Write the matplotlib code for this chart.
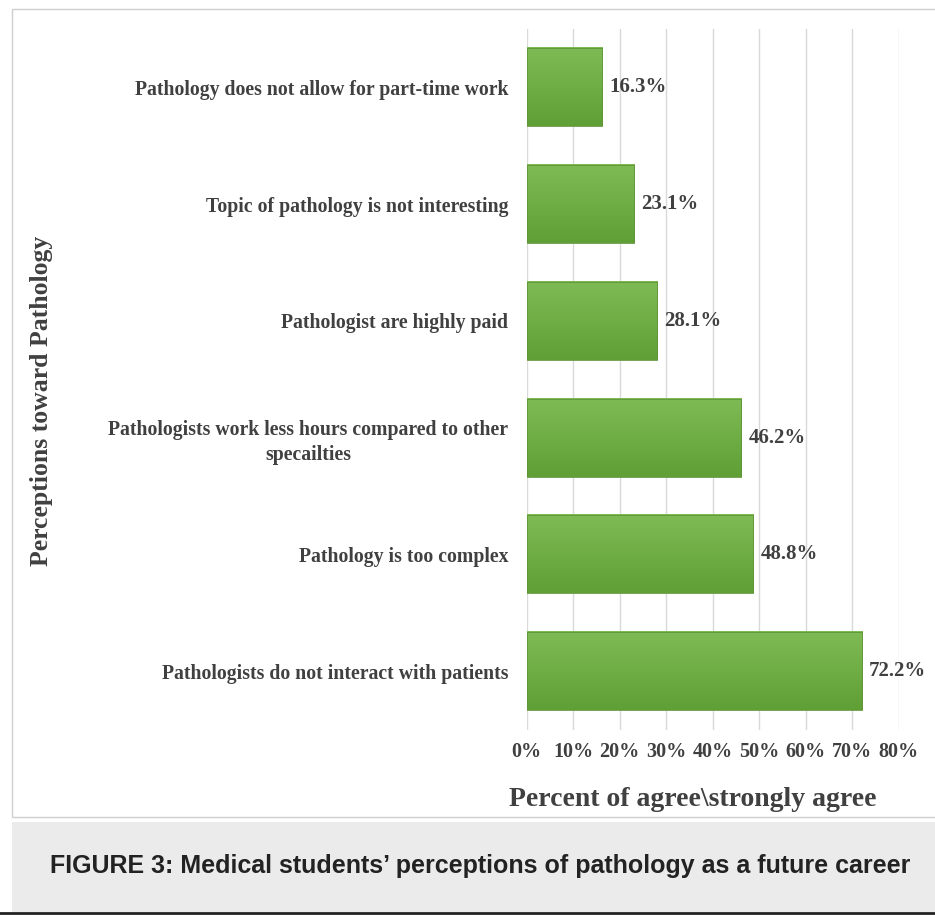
import numpy as np
import matplotlib
matplotlib.use("Agg")
import matplotlib.pyplot as plt
from matplotlib.patches import Rectangle
from matplotlib.ticker import FuncFormatter

categories = [
    "Pathologists do not interact with patients",
    "Pathology is too complex",
    "Pathologists work less hours compared to other\nspecailties",
    "Pathologist are highly paid",
    "Topic of pathology is not interesting",
    "Pathology does not allow for part-time work",
]
values = [72.2, 48.8, 46.2, 28.1, 23.1, 16.3]
xticks = [0, 10, 20, 30, 40, 50, 60, 70, 80]

serif = "Liberation Serif"
txt = "#404040"

fig = plt.figure(figsize=(9.35, 9.19), dpi=100)

# chart frame and caption box
fig.patches.append(Rectangle((12 / 935, 1 - 817 / 919), 1, (817 - 9) / 919,
                             transform=fig.transFigure, facecolor="white",
                             edgecolor="#cfcfcf", lw=1, zorder=-2))
fig.patches.append(Rectangle((12 / 935, 1 - 912 / 919), 1, (912 - 822) / 919,
                             transform=fig.transFigure, facecolor="#ebebeb",
                             edgecolor="none", zorder=-2))
fig.add_artist(plt.Line2D([0, 1], [1 - 913 / 919] * 2, transform=fig.transFigure,
                          color="#222222", lw=2))
fig.text(480 / 935, 1 - 866 / 919,
         "FIGURE 3: Medical students\u2019 perceptions of pathology as a future career",
         ha="center", va="center", fontsize=18, fontweight="bold",
         family="Liberation Sans", color="#222222")

ax = fig.add_axes([526.5 / 935, 189.5 / 919, 372 / 935, 700.5 / 919])
ax.set_zorder(5)
ax.set_facecolor("none")
y = np.arange(len(categories))
bars = ax.barh(y, values, height=0.67, color="none", edgecolor="none", zorder=3)

# green gradient inside each bar, lighter on top
grad = np.linspace(0, 1, 100).reshape(-1, 1)
cmap = matplotlib.colors.LinearSegmentedColormap.from_list("g", ["#5f9f35", "#7fbb55"])
for b in bars:
    x0, y0, w, h = b.get_x(), b.get_y(), b.get_width(), b.get_height()
    ax.imshow(grad, extent=(x0, x0 + w, y0, y0 + h), cmap=cmap, aspect="auto",
              origin="lower", zorder=3)
    ax.add_patch(Rectangle((x0, y0), w, h, facecolor="none",
                           edgecolor="#5e9438", lw=0.6, zorder=4))
ax.set_xlim(0, 80)
ax.set_ylim(-0.5, len(categories) - 0.5)

for yi, v in zip(y, values):
    ax.text(v + 1.5, yi, f"{v:.1f}%", va="center", ha="left", fontsize=15,
            fontweight="bold", family=serif, color=txt, zorder=5)

ax.set_yticks(y)
ax.set_yticklabels(categories, fontsize=14.2, fontweight="bold", family=serif,
                   color=txt, multialignment="center", linespacing=1.35)
ax.set_xticks(xticks)
ax.xaxis.set_major_formatter(FuncFormatter(lambda v, p: f"{v:.0f}%"))
for lab in ax.get_xticklabels():
    lab.set_fontsize(14.5)
    lab.set_fontweight("bold")
    lab.set_family(serif)
    lab.set_color(txt)
ax.tick_params(axis="both", length=0)
ax.tick_params(axis="y", pad=13)
ax.tick_params(axis="x", pad=9)
ax.grid(axis="x", color="#d9d9d9", lw=1, zorder=0)
for s in ax.spines.values():
    s.set_visible(False)

fig.text(693 / 935, 1 - 800 / 919, "Percent of agree\\strongly agree",
         ha="center", va="center", fontsize=20, fontweight="bold",
         family=serif, color=txt)
fig.text(42 / 935, 1 - 401 / 919, "Perceptions toward Pathology",
         ha="center", va="center", rotation=90, fontsize=18.5, fontweight="bold",
         family=serif, color=txt)

fig.savefig("out.png", dpi=100)
